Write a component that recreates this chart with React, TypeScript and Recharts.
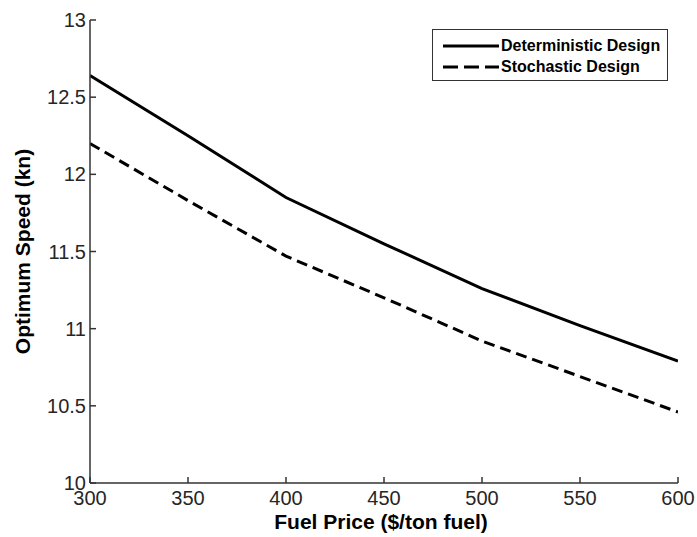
import React from 'react';
import { LineChart, Line, XAxis, YAxis, Legend } from 'recharts';

const fuelPrices = [300, 350, 400, 450, 500, 550, 600];
const deterministic = [12.64, 12.25, 11.85, 11.55, 11.26, 11.02, 10.79];
const stochastic = [12.2, 11.83, 11.47, 11.2, 10.92, 10.69, 10.46];
const xTicks = [300, 350, 400, 450, 500, 550, 600];
const yTicks = [10, 10.5, 11, 11.5, 12, 12.5, 13];

const data = fuelPrices.map((p, i) => ({ price: p, det: deterministic[i], sto: stochastic[i] }));

const FONT = '"Liberation Sans", Arial, sans-serif';
const tickStyle = { fontSize: 20, fill: '#262626', fontFamily: FONT };

const LegendBox = (props: any) => {
  const payload = props.payload || [];
  return (
    <div
      style={{
        border: '1px solid #333',
        background: '#fff',
        width: 236,
        height: 52,
        boxSizing: 'border-box',
        fontFamily: FONT,
        fontWeight: 'bold',
        fontSize: 16,
        color: '#000',
        paddingTop: 5,
      }}
    >
      {payload.map((e: any, i: number) => (
        <div key={i} style={{ display: 'flex', alignItems: 'center', height: 21 }}>
          <svg width={68} height={10} style={{ marginLeft: 0 }}>
            <line
              x1={10}
              x2={66}
              y1={5}
              y2={5}
              stroke="#000"
              strokeWidth={3}
              strokeDasharray={e.payload && e.payload.strokeDasharray ? '15 6' : undefined}
            />
          </svg>
          <span>{e.value}</span>
        </div>
      ))}
    </div>
  );
};

const YTitle = (props: any) => {
  const vb = props.viewBox || {};
  const cy = vb.y + vb.height / 2;
  return (
    <text
      x={22}
      y={cy}
      transform={`rotate(-90, 22, ${cy})`}
      textAnchor="middle"
      dominantBaseline="central"
      style={{ fontFamily: FONT, fontWeight: 'bold', fontSize: 21, fill: '#000' }}
    >
      Optimum Speed (kn)
    </text>
  );
};

const XTitle = (props: any) => {
  const vb = props.viewBox || {};
  const cx = vb.x + vb.width / 2;
  return (
    <text
      x={cx - 3}
      y={521}
      textAnchor="middle"
      dominantBaseline="central"
      style={{ fontFamily: FONT, fontWeight: 'bold', fontSize: 21, fill: '#000' }}
    >
      Fuel Price ($/ton fuel)
    </text>
  );
};

const Empty = () => <g />;

export default function App() {
  return (
    <div style={{ position: 'absolute', left: 0, top: 0, background: '#fff' }}>
      <LineChart
        width={697}
        height={537}
        data={data}
        margin={{ top: 20, right: 19, bottom: 0, left: 0 }}
      >
        <XAxis
          dataKey="price"
          type="number"
          domain={[300, 600]}
          ticks={xTicks}
          allowDataOverflow
          height={54}
          tickSize={-6}
          tickMargin={14}
          tick={tickStyle}
          stroke="#333"
          axisLine={{ stroke: '#333', strokeWidth: 1.5 }}
          tickLine={{ stroke: '#333', strokeWidth: 1.5 }}
          label={<XTitle />}
          interval={0}
        />
        <XAxis
          xAxisId="top"
          orientation="top"
          dataKey="price"
          type="number"
          domain={[300, 600]}
          ticks={xTicks}
          allowDataOverflow
          height={0}
          tickSize={-6}
          tick={Empty}
          axisLine={{ stroke: '#333', strokeWidth: 1.5 }}
          tickLine={{ stroke: '#333', strokeWidth: 1.5 }}
          interval={0}
        />
        <YAxis
          type="number"
          domain={[10, 13]}
          ticks={yTicks}
          allowDataOverflow
          width={90}
          tickSize={-6}
          tickMargin={10}
          tick={tickStyle}
          axisLine={{ stroke: '#333', strokeWidth: 1.5 }}
          tickLine={{ stroke: '#333', strokeWidth: 1.5 }}
          label={<YTitle />}
          interval={0}
        />
        <YAxis
          yAxisId="right"
          orientation="right"
          type="number"
          domain={[10, 13]}
          ticks={yTicks}
          allowDataOverflow
          width={0}
          tickSize={-6}
          tick={Empty}
          axisLine={{ stroke: '#333', strokeWidth: 1.5 }}
          tickLine={{ stroke: '#333', strokeWidth: 1.5 }}
          interval={0}
        />
        <Legend
          layout="horizontal"
          verticalAlign="middle"
          align="center"
          content={<LegendBox />}
          wrapperStyle={{ position: 'absolute', left: 432, top: 29, width: 238, height: 54 }}
        />
        <Line
          name="Deterministic Design"
          dataKey="det"
          type="linear"
          stroke="#000"
          strokeWidth={3}
          dot={false}
          isAnimationActive={false}
        />
        <Line
          name="Stochastic Design"
          dataKey="sto"
          type="linear"
          stroke="#000"
          strokeWidth={3}
          strokeDasharray="11 6"
          dot={false}
          isAnimationActive={false}
        />
      </LineChart>
    </div>
  );
}
